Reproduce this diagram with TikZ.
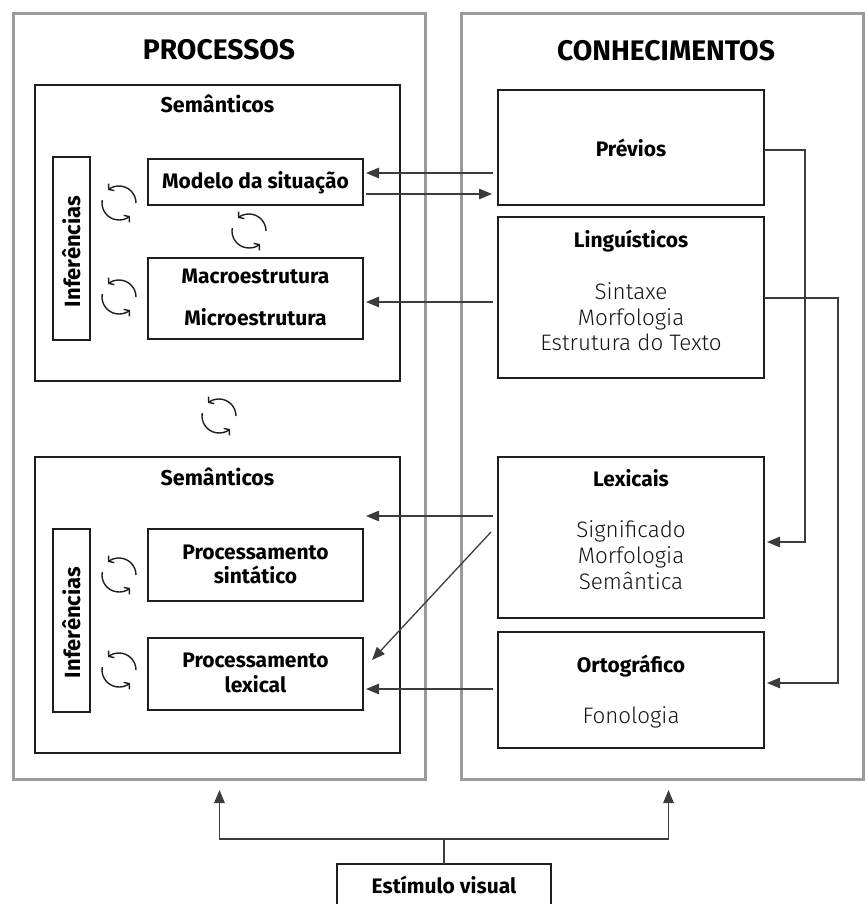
\documentclass[tikz,border=0pt]{standalone}
\usepackage{fontspec}
\setmainfont{Fira Sans}
\newfontfamily\lightfont{Fira Sans Light}
\usetikzlibrary{positioning,calc,arrows.meta}

\definecolor{panelgray}{RGB}{155,155,155}
\definecolor{boxline}{RGB}{30,30,30}
\definecolor{linkgray}{RGB}{60,60,60}
\definecolor{textgray}{RGB}{20,20,20}

\tikzset{
  swirl/.pic={
    \draw[swirlarrow] (0:17pt) arc[start angle=0, end angle=130, radius=17pt];
    \draw[swirlarrow] (170:17pt) arc[start angle=170, end angle=310, radius=17pt];
  }
}

\begin{document}
\begin{tikzpicture}
    [
    x=1pt, y=-1pt,
    panel/.style={draw=panelgray, line width=3pt, anchor=north west},
    box/.style={draw=boxline, line width=1.6pt, inner sep=0pt, outer sep=0pt, anchor=north west},
    title/.style={font=\bfseries\fontsize{28.3}{32}\selectfont, anchor=base},
    sem/.style={font=\bfseries\fontsize{21.5}{24}\selectfont, anchor=base},
    head/.style={font=\bfseries\fontsize{21}{24}\selectfont, anchor=base},
    inf/.style={font=\bfseries\fontsize{22}{24}\selectfont, anchor=base, rotate=90},
    sub/.style={font=\lightfont\fontsize{22.4}{26}\selectfont, text=textgray, anchor=base},
    link/.style={draw=linkgray, line width=1.3pt, -{Triangle[length=13pt, width=10.5pt]}},
    swirlarrow/.style={draw=boxline, line width=1.4pt, -{Straight Barb[length=3.5pt, width=9pt]}},
    ]

    \useasboundingbox (0,0) rectangle (865,904);

    % the two panels
    \node[panel, minimum width=412pt, minimum height=766pt] (proc) at (12,12) {};
    \node[panel, minimum width=402pt, minimum height=766pt] (conh) at (460,12) {};
    \node[title] (proc_t) at (219,60) {PROCESSOS};
    \node[title] (conh_t) at (666,60.5) {CONHECIMENTOS};

    % processos, upper block
    \node[box, minimum width=365pt, minimum height=296pt] (sem_top) at (35,85) {};
    \node[sem] (sem_top_t) at ($(sem_top.north)+(0,28)$) {Semânticos};
    \node[box, minimum width=37pt, minimum height=183pt] (inf_top) at (53,157) {};
    \node[inf] (inf_top_t) at (80,251.5) {Inferências};

    \node[box, minimum width=215pt, minimum height=46pt] (modelo) at (148,159) {};
    \node[head] (modelo_t) at ($(modelo.north)+(0,30)$) {Modelo da situação};
    \node[box, minimum width=215pt, minimum height=81pt, below=53pt of modelo] (macro) {};
    \node[head] (macro_t) at ($(macro.north)+(0,25)$) {Macroestrutura};
    \node[head] (micro_t) at ($(macro.north)+(0,67)$) {Microestrutura};

    % processos, lower block
    \node[box, minimum width=365pt, minimum height=296pt] (sem_bot) at (35,457) {};
    \node[sem] (sem_bot_t) at ($(sem_bot.north)+(0,28)$) {Semânticos};
    \node[box, minimum width=37pt, minimum height=183pt] (inf_bot) at (53,529) {};
    \node[inf] (inf_bot_t) at (80,622.5) {Inferências};

    \node[box, minimum width=215pt, minimum height=72pt] (sint) at (148,529) {};
    \node[head] (sint_t1) at ($(sint.north)+(0,30)$) {Processamento};
    \node[head] (sint_t2) at ($(sint.north)+(0,54)$) {sintático};
    \node[box, minimum width=215pt, minimum height=72pt, below=37pt of sint] (lexproc) {};
    \node[head] (lexproc_t1) at ($(lexproc.north)+(0,29)$) {Processamento};
    \node[head] (lexproc_t2) at ($(lexproc.north)+(0,54)$) {lexical};

    % the little cycles
    \pic at (119,203) {swirl};
    \pic at (249,231) {swirl};
    \pic at (119,297) {swirl};
    \pic at (219,416) {swirl};
    \pic at (119,575) {swirl};
    \pic at (119,670) {swirl};

    % conhecimentos
    \node[box, minimum width=266pt, minimum height=115pt] (previos) at (498,90) {};
    \node[head] (previos_t) at ($(previos.north)+(0,67)$) {Prévios};

    \node[box, minimum width=266pt, minimum height=161pt, below=12pt of previos] (ling) {};
    \node[head] (ling_t) at ($(ling.north)+(0,30)$) {Linguísticos};
    \node[sub] (ling_s1) at ($(ling.north)+(0,82)$) {Sintaxe};
    \node[sub] (ling_s2) at ($(ling.north)+(0,108)$) {Morfologia};
    \node[sub] (ling_s3) at ($(ling.north)+(0,133)$) {Estrutura do Texto};

    \node[box, minimum width=266pt, minimum height=161pt] (lexicais) at (498,457) {};
    \node[head] (lexicais_t) at ($(lexicais.north)+(0,29)$) {Lexicais};
    \node[sub] (lexicais_s1) at ($(lexicais.north)+(0,80)$) {Significado};
    \node[sub] (lexicais_s2) at ($(lexicais.north)+(0,106)$) {Morfologia};
    \node[sub] (lexicais_s3) at ($(lexicais.north)+(0,132)$) {Semântica};

    \node[box, minimum width=266pt, minimum height=116pt, below=14pt of lexicais] (orto) {};
    \node[head] (orto_t) at ($(orto.north)+(0,40)$) {Ortográfico};
    \node[sub] (orto_s1) at ($(orto.north)+(0,91)$) {Fonologia};

    % stimulus
    \node[box, minimum width=214pt, minimum height=50pt] (estimulo) at (337,864) {};
    \node[head] (estimulo_t) at ($(estimulo.north)+(0,29)$) {Estímulo visual};

    % links between the columns
    \draw[link] ($(modelo.east -| previos.west)+(-5,-9)$) -- ($(modelo.east)+(3,-9)$);
    \draw[link] ($(modelo.east)+(3,12)$) -- ($(modelo.east -| previos.west)+(-6,12)$);
    \draw[link] ($(macro.east -| ling.west)+(-5,3.5)$) -- ($(macro.east)+(3,3.5)$);
    \draw[link] ($(sint.north -| lexicais.west)+(-5,-13)$) -- ($(sint.north east)+(3,-13)$);
    \draw[link] ($(lexicais.west)+(-7,-5.5)$) -- ($(lexproc.east)+(9,-14)$);
    \draw[link] ($(orto.west)+(-5,-1)$) -- ($(orto.west -| lexproc.east)+(3,-1)$);

    % links on the right
    \draw[link] ($(previos.east)+(0,2.5)$) -- ++(41,0) |- ($(lexicais.east)+(3,4.5)$);
    \draw[link] ($(ling.east)+(0,0.5)$) -- ++(74,0) |- ($(orto.east)+(3,-7)$);

    % from the stimulus
    \coordinate (split) at ($(estimulo.north)+(0,-25)$);
    \draw[draw=linkgray, line width=1.3pt] (estimulo.north) -- (split);
    \draw[link] (split) -| ($(proc.south)+(0,9)$);
    \draw[link] (split) -| ($(conh.south)+(6,9)$);
\end{tikzpicture}
\end{document}
